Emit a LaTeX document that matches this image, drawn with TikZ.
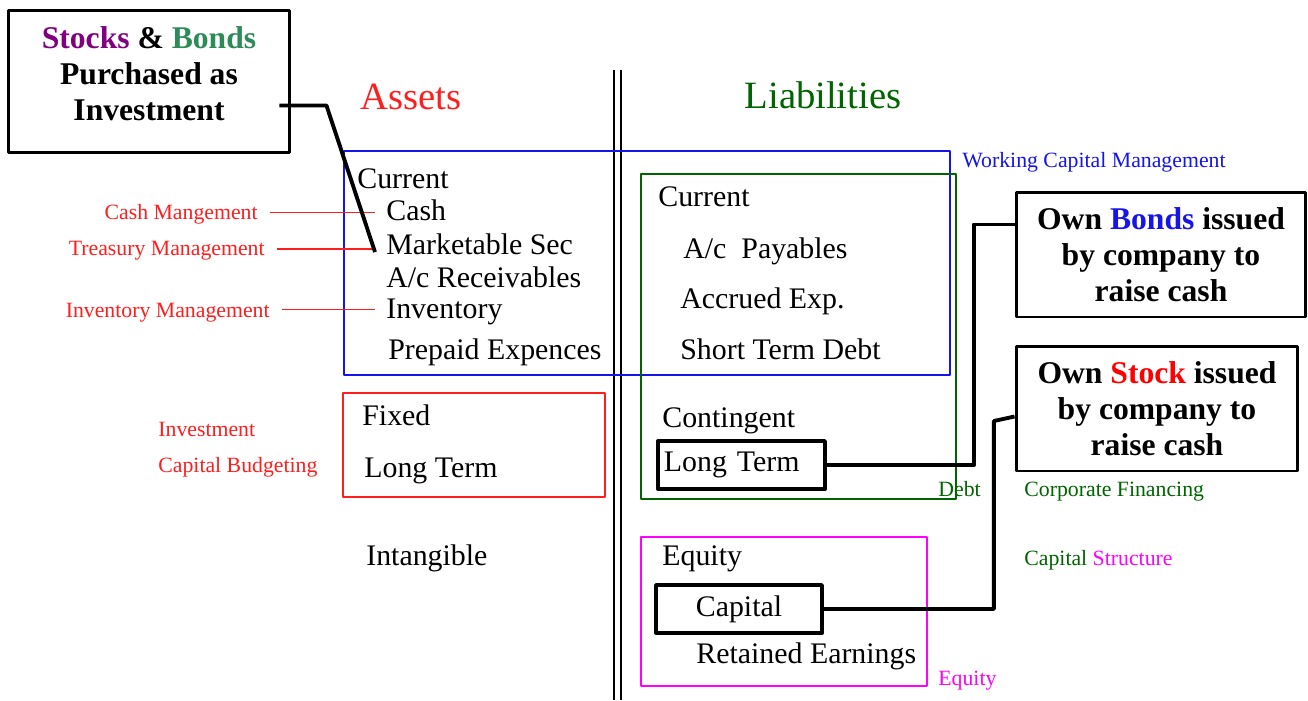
\documentclass[tikz,border=0pt]{standalone}
\usepackage{fontspec}
\setmainfont{Liberation Serif}
\usetikzlibrary{calc}
\definecolor{assetred}{RGB}{255,30,30}
\definecolor{wcblue}{RGB}{20,20,235}
\definecolor{liabgreen}{RGB}{0,100,0}
\definecolor{stockpurple}{RGB}{128,0,128}
\definecolor{bondgreen}{RGB}{46,139,87}
\definecolor{eqmagenta}{RGB}{255,0,255}
\begin{document}
\begin{tikzpicture}[x=0.02cm, y=-0.02cm, line join=round,
	item/.style={anchor=mid west, inner sep=0pt, yshift=-2.3pt, font=\fontsize{17}{20}\selectfont},
	note/.style={anchor=mid west, inner sep=0pt, yshift=-1.7pt, font=\fontsize{12.4}{14}\selectfont},
	mgmt/.style={note, anchor=mid east, text=assetred},
	head/.style={inner sep=0pt, font=\fontsize{22}{26}\selectfont},
	callbox/.style={draw, line width=1.7pt, align=center, inner sep=0pt, font=\bfseries\fontsize{18}{20.6}\selectfont},
	itembox/.style={draw, line width=2.2pt, minimum height=.96cm, inner sep=0pt, font=\fontsize{17}{20}\selectfont},
	callout/.style={line width=2.2pt},
	mgmtline/.style={assetred, line width=.85pt, shorten <=6.8pt, shorten >=6.2pt},
	frame/.style={line width=.9pt}]
	\useasboundingbox (0,0) rectangle (1308,700);
	
	% middle divider
	\draw[line width=.85pt] (614,70) -- (614,700) (621,70) -- (621,700);
	
	% group frames
	\draw[frame, wcblue] (344,151) rectangle (950,375);
	\draw[frame, liabgreen] (641,174) rectangle (956,499);
	\draw[frame, assetred, line width=1.2pt] (343,393) rectangle (605,497);
	\draw[frame, eqmagenta] (641,537) rectangle (927,686);
	
	% headings
	\node[head, text=assetred] (assets) at (411,97) {Assets};
	\node[head, text=liabgreen] (liab) at (823,95) {Liabilities};
	
	% assets side
	\node[item] (acur) at (357,180) {Current};
	\node[item] (cash) at (386,212) {Cash};
	\node[item] (mksec) at (386,246) {Marketable Sec};
	\node[item] (recv) at (386,279) {A/c Receivables};
	\node[item] (inv) at (386,310) {Inventory};
	\node[item] (prep) at (388,351) {Prepaid Expences};
	\node[item] (fixed) at (362,417) {Fixed};
	\node[item] (altl) at (364,469) {Long Term};
	\node[item] (intang) at (366,557) {Intangible};
	
	% liabilities side
	\node[item] (lcur) at (658,198) {Current};
	\node[item] (pay) at (683,250) {A/c\ \ Payables};
	\node[item] (accr) at (680,300) {Accrued Exp.};
	\node[item] (stdebt) at (680,351) {Short Term Debt};
	\node[item] (cont) at (662,419) {Contingent};
	\node[itembox, anchor=west, text width=3.1cm, inner xsep=.12cm, align=left] (lltl) at (656,465) {Long Term};
	\node[item] (equity) at (662,557) {Equity};
	\node[itembox, minimum width=3.32cm] (capital) at (739,609) {Capital};
	\node[item] (retain) at (696,655) {Retained Earnings};
	
	% side notes
	\node[note, text=wcblue] (wcm) at (962,160) {Working Capital Management};
	\node[note, text=liabgreen] (debt) at (938,489) {Debt};
	\node[note, text=liabgreen] (corpfin) at (1024,489) {Corporate Financing};
	\node[note, text=liabgreen] (capstr) at (1024,558) {Capital \textcolor{eqmagenta}{Structure}};
	\node[note, text=eqmagenta] (eqnote) at (938,678) {Equity};
	\node[mgmt] (cashm) at (258,212) {Cash Mangement};
	\node[mgmt] (treas) at (265,248) {Treasury Management};
	\node[mgmt] (invm) at (270,310) {Inventory Management};
	\node[note, text=assetred] (invest) at (158,429) {Investment};
	\node[note, text=assetred] (capbud) at (158,465) {Capital Budgeting};
	
	\draw[mgmtline] ([yshift=1.5pt]cashm.mid east) -- ([yshift=1.5pt]cashm.mid east -| cash.west);
	\draw[mgmtline] ([yshift=1.2pt]treas.mid east) -- ([yshift=1.2pt]treas.mid east -| mksec.west);
	\draw[mgmtline] ([yshift=2pt]invm.mid east) -- ([yshift=2pt]invm.mid east -| inv.west);
	
	% callouts
	\node[callbox, minimum width=5.64cm, minimum height=2.86cm] (stkbond) at (149,81.5) {\textcolor{stockpurple}{Stocks} \& \textcolor{bondgreen}{Bonds}\\Purchased as\\Investment\rule[-9pt]{0pt}{9pt}};
	\node[callbox, minimum width=5.8cm, minimum height=2.5cm] (ownbond) at (1161,254.5) {Own \textcolor{wcblue}{Bonds} issued\\by company to\\raise cash};
	\node[callbox, minimum width=5.64cm, minimum height=2.5cm] (ownstock) at (1157,408.5) {Own \textcolor{red}{Stock} issued\\by company to\\raise cash};
	
	\draw[callout] ($(stkbond.east)+(-12,24)$) -- ++(47,0) -- ($(mksec.mid west)+(-11,2)$);
	\draw[callout] (lltl.east) -- ++(147,0) |- ($(ownbond.west)+(0,-30)$);
	\draw[callout] (capital.east) -- ++(170,0) -- ++(0,-188) -- ($(ownstock.west)+(0,8)$);
\end{tikzpicture}
\end{document}
